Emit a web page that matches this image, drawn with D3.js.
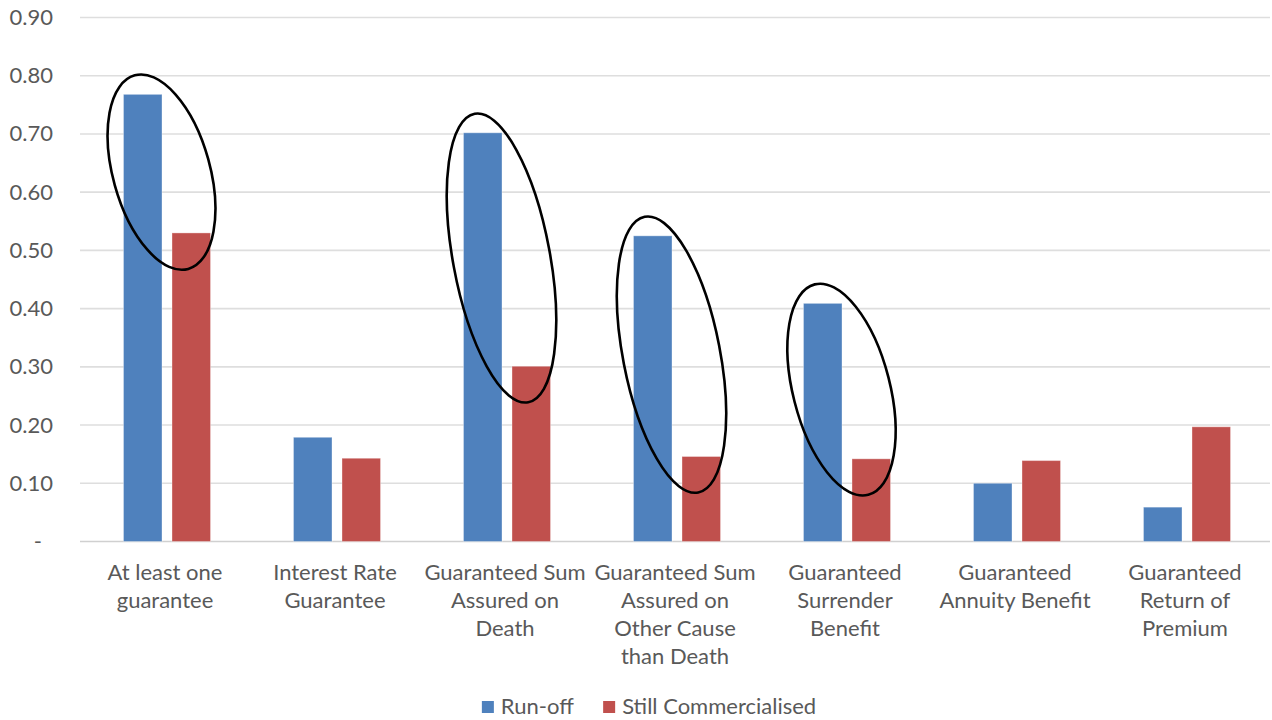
<!DOCTYPE html>
<html>
<head>
<meta charset="utf-8">
<script src="https://cdn.jsdelivr.net/npm/d3@7"></script>
<style>
  html, body { margin: 0; padding: 0; background: #fff; }
  svg { display: block; }
  text { font-family: Lato, "Open Sans", sans-serif; fill: #595959; }
</style>
</head>
<body>
<svg id="chart" width="1272" height="720"></svg>
<script>
// Category labels, one entry per line of the wrapped axis label
const categories = [
  ["At least one", "guarantee"],
  ["Interest Rate", "Guarantee"],
  ["Guaranteed Sum", "Assured on", "Death"],
  ["Guaranteed Sum", "Assured on", "Other Cause", "than Death"],
  ["Guaranteed", "Surrender", "Benefit"],
  ["Guaranteed", "Annuity Benefit"],
  ["Guaranteed", "Return of", "Premium"]
];
const seriesNames = ["Run-off", "Still Commercialised"];
const runOff = [0.768, 0.179, 0.702, 0.525, 0.409, 0.100, 0.059];
const stillCommercialised = [0.530, 0.143, 0.301, 0.146, 0.142, 0.139, 0.197];
const yTicks = [0, 0.1, 0.2, 0.3, 0.4, 0.5, 0.6, 0.7, 0.8, 0.9];
// Categories circled to highlight the run-off / commercialised gap
const highlighted = [0, 2, 3, 4];

const colors = ["#4F81BD", "#C0504D"];
const fontSize = 22;
const svg = d3.select("#chart");

const keys = categories.map((c, i) => i);
const x = d3.scaleBand().domain(keys).range([82, 1272]);
const xInner = d3.scaleBand().domain(seriesNames)
  .range([0, x.bandwidth()]).paddingInner(0.206).paddingOuter(0.855);
const y = d3.scaleLinear().domain([0, 0.9]).range([541.5, 17.5]);

// Horizontal gridlines
svg.append("g").selectAll("line").data(yTicks).join("line")
  .attr("x1", 80).attr("x2", 1270)
  .attr("y1", d => y(d)).attr("y2", d => y(d))
  .attr("stroke", d => d === 0 ? "#d0d0d0" : "#dedede")
  .attr("stroke-width", 1.6);

// Y axis labels (accounting style: zero shown as a dash)
const yAxis = d3.axisLeft(y).tickValues(yTicks)
  .tickFormat(d => d === 0 ? "-" : d3.format(".2f")(d))
  .tickSize(0).tickPadding(0);
const yg = svg.append("g").attr("transform", "translate(53,0)").call(yAxis);
yg.select(".domain").remove();
yg.selectAll("text")
  .style("font-family", "Lato, 'Open Sans', sans-serif")
  .style("font-size", fontSize + "px").attr("fill", "#595959")
  .attr("dx", d => d === 0 ? -11 : 0);

// Bars
const rows = keys.map(i => ({ i, values: [runOff[i], stillCommercialised[i]] }));
const groups = svg.append("g").selectAll("g").data(rows).join("g")
  .attr("transform", d => `translate(${x(d.i)},0)`);
groups.selectAll("rect")
  .data(d => d.values.map((v, s) => ({ v, s })))
  .join("rect")
  .attr("x", d => xInner(seriesNames[d.s]))
  .attr("width", xInner.bandwidth())
  .attr("y", d => y(d.v))
  .attr("height", d => y(0) - y(d.v))
  .attr("fill", d => colors[d.s])
  .attr("stroke", "rgba(255,255,255,0.35)")
  .attr("stroke-width", 1);

// Category labels
const xl = svg.append("g").selectAll("text").data(keys).join("text")
  .attr("text-anchor", "middle")
  .attr("font-size", fontSize)
  .attr("x", i => x(i) + x.bandwidth() / 2 - 2)
  .attr("y", 580);
xl.selectAll("tspan").data(i => categories[i]).join("tspan")
  .attr("x", function () { return d3.select(this.parentNode).attr("x"); })
  .attr("dy", (d, j) => j === 0 ? 0 : 28)
  .text(d => d);

// Highlight ellipses spanning from the run-off bar top to the commercialised bar top
const ell = svg.append("g");
highlighted.forEach(i => {
  const bx = x(i) + xInner(seriesNames[0]) + xInner.bandwidth() / 2;
  const rx = x(i) + xInner(seriesNames[1]) + xInner.bandwidth() / 2;
  const p1 = [bx - 8, y(runOff[i]) - 19];
  const p2 = [rx - 3, y(stillCommercialised[i]) + 36];
  const cx = (p1[0] + p2[0]) / 2, cy = (p1[1] + p2[1]) / 2;
  const half = Math.hypot(p2[0] - p1[0], p2[1] - p1[1]) / 2;
  const ang = Math.atan2(p2[0] - p1[0], p2[1] - p1[1]) * 180 / Math.PI;
  ell.append("ellipse")
    .attr("cx", 0).attr("cy", 0)
    .attr("rx", 48.5).attr("ry", half)
    .attr("transform", `translate(${cx},${cy}) rotate(${-ang})`)
    .attr("fill", "none")
    .attr("stroke", "#000")
    .attr("stroke-width", 2.6);
});

// Legend
const legend = svg.append("g");
const items = legend.selectAll("g").data(seriesNames).join("g");
items.append("rect").attr("width", 12).attr("height", 12)
  .attr("y", -13).attr("fill", (d, s) => colors[s]);
items.append("text").attr("x", 19).attr("y", 0).attr("font-size", fontSize).text(d => d);
let off = 0;
items.each(function () {
  d3.select(this).attr("transform", `translate(${off},0)`);
  off += this.getBBox().width + 29;
});
const total = off - 29;
legend.attr("transform", `translate(${649 - total / 2},714)`);
</script>
</body>
</html>
